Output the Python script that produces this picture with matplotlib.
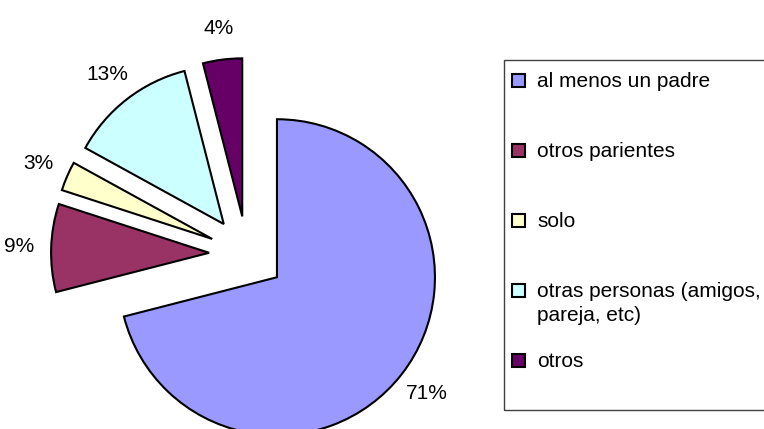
import numpy as np
import matplotlib
matplotlib.use('Agg')
import matplotlib.pyplot as plt
from matplotlib.patches import Rectangle

# donnees
etiquettes = ['al menos un padre', 'otros parientes', 'solo',
              'otras personas (amigos,\npareja, etc)', 'otros']
valeurs = [71, 9, 3, 13, 4]
couleurs = ['#9999FF', '#993366', '#FFFFCC', '#CCFFFF', '#660066']

plt.rcParams['font.family'] = ['Liberation Sans', 'DejaVu Sans']

W, H = 764, 429
fig = plt.figure(figsize=(W / 100, H / 100), dpi=100)
ax = fig.add_axes([0, 0, 1, 1])

# centre du camembert (pixels) et rayon
cx, cy, r = 247, 254, 158

ax.pie(valeurs, colors=couleurs, explode=[0.24] * len(valeurs),
       startangle=90, counterclock=False, radius=1,
       autopct='%1.0f%%', pctdistance=1.2,
       textprops={'fontsize': 15, 'color': 'black'},
       wedgeprops={'edgecolor': 'black', 'linewidth': 1.5})

ax.set_xlim(-cx / r, (W - cx) / r)
ax.set_ylim(-(H - cy) / r, cy / r)
ax.axis('off')


def fx(px):
    return px / W


def fy(py):
    return 1 - py / H


# cadre de la legende (coupe a droite comme l'original)
fig.add_artist(Rectangle((fx(504), fy(410)), fx(780) - fx(504), fy(60) - fy(410),
                         transform=fig.transFigure, facecolor='none',
                         edgecolor='#404040', linewidth=1))

base = 87
for i, (lab, col) in enumerate(zip(etiquettes, couleurs)):
    y = base + 70 * i
    fig.add_artist(Rectangle((fx(512), fy(y)), 13 / W, 13 / H,
                             transform=fig.transFigure, facecolor=col,
                             edgecolor='black', linewidth=1.5))
    for k, ligne in enumerate(lab.split('\n')):
        fig.text(fx(537), fy(y + 24 * k), ligne, fontsize=15,
                 va='baseline', ha='left')

fig.savefig('out.png', dpi=100)
